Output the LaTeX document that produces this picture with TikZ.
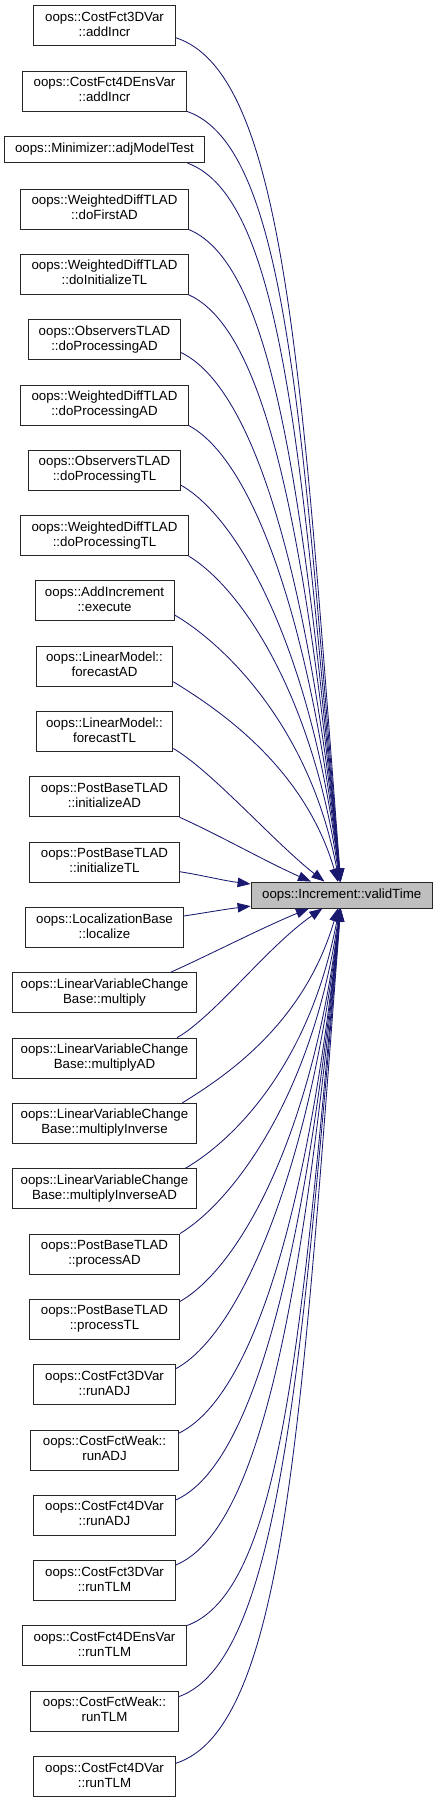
\documentclass[tikz,border=0pt]{standalone}
\usepackage{fontspec}
\setmainfont{Liberation Sans}
\usetikzlibrary{arrows.meta}
\definecolor{edgeblue}{RGB}{25,25,112}
\definecolor{tgtgray}{RGB}{191,191,191}
\newcommand\dl[2]{\strut #1\\\strut #2}
\begin{document}
\begin{tikzpicture}[x=1pt,y=-1pt,
  fn/.style={draw=black!85, line width=0.9pt, fill=white, inner sep=0pt, align=center,
             minimum height=40pt, font=\fontsize{13.3}{15}\selectfont},
  fnone/.style={fn, minimum height=26pt},
  tgbox/.style={fnone, fill=tgtgray},
  edge/.style={draw=edgeblue, line width=0.85pt, -{Triangle[length=13pt,width=9.5pt]}}]
\path[use as bounding box] (0,0) rectangle (437,1803);

\node[fn, minimum width=141.3pt] (n1) at (104.5,25.7) {\dl{oops::CostFct3DVar}{::addIncr}};
\node[fn, minimum width=164.4pt] (n2) at (104.5,91) {\dl{oops::CostFct4DEnsVar}{::addIncr}};
\node[fnone, minimum width=199.3pt] (n3) at (104.5,149.7) {\strut oops::Minimizer::adjModelTest};
\node[fn, minimum width=167.3pt] (n4) at (104.5,209) {\dl{oops::WeightedDiffTLAD}{::doFirstAD}};
\node[fn, minimum width=167.3pt] (n5) at (104.5,274.3) {\dl{oops::WeightedDiffTLAD}{::doInitializeTL}};
\node[fn, minimum width=152.4pt] (n6) at (104.5,339.6) {\dl{oops::ObserversTLAD}{::doProcessingAD}};
\node[fn, minimum width=167.3pt] (n7) at (104.5,405) {\dl{oops::WeightedDiffTLAD}{::doProcessingAD}};
\node[fn, minimum width=152.4pt] (n8) at (104.5,470.3) {\dl{oops::ObserversTLAD}{::doProcessingTL}};
\node[fn, minimum width=167.3pt] (n9) at (104.5,535.6) {\dl{oops::WeightedDiffTLAD}{::doProcessingTL}};
\node[fn, minimum width=139pt] (n10) at (104.5,600.9) {\dl{oops::AddIncrement}{::execute}};
\node[fn, minimum width=136.7pt] (n11) at (104.5,666.2) {\dl{oops::LinearModel::}{forecastAD}};
\node[fn, minimum width=136.7pt] (n12) at (104.5,731.5) {\dl{oops::LinearModel::}{forecastTL}};
\node[fn, minimum width=149.3pt] (n13) at (104.5,796.8) {\dl{oops::PostBaseTLAD}{::initializeAD}};
\node[fn, minimum width=149.3pt] (n14) at (104.5,862.2) {\dl{oops::PostBaseTLAD}{::initializeTL}};
\node[fn, minimum width=157.6pt] (n15) at (104.5,927.5) {\dl{oops::LocalizationBase}{::localize}};
\node[fn, minimum width=184.4pt] (n16) at (104.5,992.8) {\dl{oops::LinearVariableChange}{Base::multiply}};
\node[fn, minimum width=184.4pt] (n17) at (104.5,1058.1) {\dl{oops::LinearVariableChange}{Base::multiplyAD}};
\node[fn, minimum width=184.4pt] (n18) at (104.5,1123.4) {\dl{oops::LinearVariableChange}{Base::multiplyInverse}};
\node[fn, minimum width=184.4pt] (n19) at (104.5,1188.7) {\dl{oops::LinearVariableChange}{Base::multiplyInverseAD}};
\node[fn, minimum width=150pt] (n20) at (104.5,1254) {\dl{oops::PostBaseTLAD}{::processAD}};
\node[fn, minimum width=150pt] (n21) at (104.5,1319.4) {\dl{oops::PostBaseTLAD}{::processTL}};
\node[fn, minimum width=141.6pt] (n22) at (104.5,1384.7) {\dl{oops::CostFct3DVar}{::runADJ}};
\node[fn, minimum width=147.3pt] (n23) at (104.5,1450) {\dl{oops::CostFctWeak::}{runADJ}};
\node[fn, minimum width=141.6pt] (n24) at (104.5,1515.3) {\dl{oops::CostFct4DVar}{::runADJ}};
\node[fn, minimum width=141.6pt] (n25) at (104.5,1580.6) {\dl{oops::CostFct3DVar}{::runTLM}};
\node[fn, minimum width=164.4pt] (n26) at (104.5,1645.9) {\dl{oops::CostFct4DEnsVar}{::runTLM}};
\node[fn, minimum width=147.3pt] (n27) at (104.5,1711.2) {\dl{oops::CostFctWeak::}{runTLM}};
\node[fn, minimum width=141.6pt] (n28) at (104.5,1776.5) {\dl{oops::CostFct4DVar}{::runTLM}};

\node[tgbox, minimum width=181.3pt] (tgt) at (341.7,895) {\strut oops::Increment::validTime};

% upper edges
\draw[edge] ([yshift=-12pt]n1.east) .. controls +(110,35) and (302,375) .. (tgt);
\draw[edge] (n2.south east) .. controls +(100,35) and (301.7,420) .. (tgt);
\draw[edge] ([xshift=-17pt]n3.south east) .. controls +(95,35) and (301.7,455) .. (tgt);
\draw[edge] (n4.south east) .. controls +(85,35) and (303.7,495) .. (tgt);
\draw[edge] (n5.south east) .. controls +(78,35) and (305.7,535) .. (tgt);
\draw[edge] ([yshift=-13pt]n6.east) .. controls +(72,35) and (307.7,570) .. (tgt);
\draw[edge] (n7.south east) .. controls +(62,33) and (309.7,613) .. (tgt);
\draw[edge] ([yshift=-15pt]n8.east) .. controls +(58,33) and (311.7,650) .. (tgt);
\draw[edge] (n9.south east) .. controls +(50,30) and (311.7,690) .. (tgt);
\draw[edge] ([yshift=-14pt]n10.east) .. controls +(48,28) and (309.7,725) .. (tgt);
\draw[edge] ([yshift=-15.5pt]n11.east) .. controls +(42,26) and (303.7,765) .. (tgt);
\draw[edge] ([yshift=-17pt]n12.east) .. controls +(38,22) and (274.9,843) .. (tgt);
\draw[edge] (n13.south east) .. controls +(40,18) and (267.5,862.5) .. (tgt);
\draw[edge] ([yshift=-9.5pt]n14.east) .. controls +(20,3) and (223.8,880.7) .. (tgt);
% lower edges
\draw[edge] ([yshift=11.5pt]n15.east) .. controls +(20,-3) and (224.7,909.3) .. (tgt);
\draw[edge] ([xshift=-26.7pt]n16.north east) .. controls +(40,-18) and (262.5,927.5) .. (tgt);
\draw[edge] ([xshift=-20pt]n17.north east) .. controls +(38,-22) and (266.9,947) .. (tgt);
\draw[edge] ([xshift=-15pt]n18.north east) .. controls +(42,-26) and (303.7,1025) .. (tgt);
\draw[edge] ([xshift=-11.7pt]n19.north east) .. controls +(48,-28) and (309.7,1065) .. (tgt);
\draw[edge] (n20.north east) .. controls +(50,-30) and (311.7,1100) .. (tgt);
\draw[edge] ([yshift=-2.5pt]n21.north east) .. controls +(58,-33) and (311.7,1140) .. (tgt);
\draw[edge] ([yshift=16pt]n22.east) .. controls +(62,-33) and (309.7,1177) .. (tgt);
\draw[edge] ([yshift=16.7pt]n23.east) .. controls +(72,-35) and (307.7,1220) .. (tgt);
\draw[edge] ([yshift=15.3pt]n24.east) .. controls +(78,-35) and (305.7,1255) .. (tgt);
\draw[edge] ([yshift=15.6pt]n25.east) .. controls +(85,-35) and (303.7,1295) .. (tgt);
\draw[edge] (n26.north east) .. controls +(95,-35) and (301.7,1335) .. (tgt);
\draw[edge] ([yshift=14.5pt]n27.east) .. controls +(100,-35) and (301.7,1370) .. (tgt);
\draw[edge] ([yshift=13.2pt]n28.east) .. controls +(110,-35) and (301.7,1415) .. (tgt);
\end{tikzpicture}
\end{document}
